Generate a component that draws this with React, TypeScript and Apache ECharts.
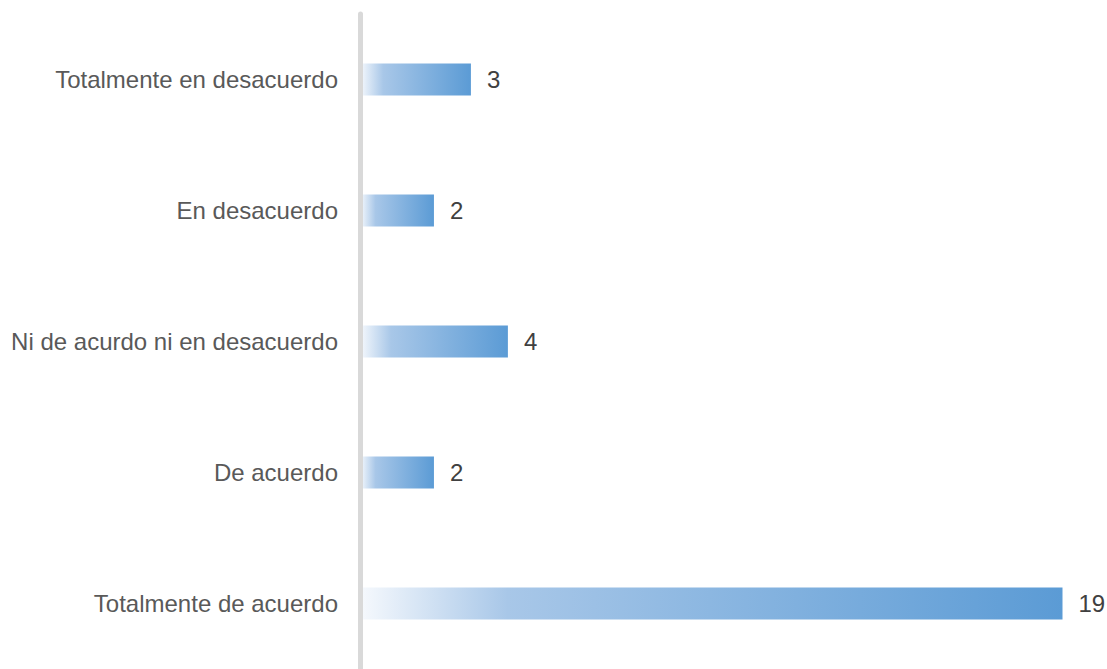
import React, { useEffect, useRef } from "react";
import * as echarts from "echarts";

const categories = [
  "Totalmente en desacuerdo",
  "En desacuerdo",
  "Ni de acurdo ni en desacuerdo",
  "De acuerdo",
  "Totalmente de acuerdo",
];
const values = [3, 2, 4, 2, 19];

export default function App() {
  const ref = useRef<HTMLDivElement>(null);
  useEffect(() => {
    if (!ref.current) return;
    const chart = echarts.init(ref.current, undefined, { renderer: "svg" });
    const font = "'Liberation Sans', Arial, sans-serif";
    chart.setOption({
      animation: false,
      backgroundColor: "#ffffff",
      grid: { left: 360, top: 14, width: 702.5, height: 668, containLabel: false },
      xAxis: {
        type: "value",
        min: 0,
        max: 19,
        show: false,
      },
      yAxis: {
        type: "category",
        data: categories,
        inverse: true,
        z: 5,
        axisLine: { show: true, lineStyle: { color: "#d9d9d9", width: 5 } },
        axisTick: { show: false },
        axisLabel: {
          color: "#595959",
          fontSize: 24,
          fontFamily: font,
          margin: 22,
        },
        splitLine: { show: false },
      },
      series: [
        {
          type: "bar",
          data: values,
          barWidth: 32,
          itemStyle: {
            color: new echarts.graphic.LinearGradient(0, 0, 1, 0, [
              { offset: 0, color: "#f6f9fd" },
              { offset: 0.21, color: "#a8c7e8" },
              { offset: 1, color: "#5b9bd5" },
            ]),
          },
          label: {
            show: true,
            position: "right",
            distance: 16,
            color: "#404040",
            fontSize: 24,
            fontFamily: font,
          },
        },
      ],
    });
    return () => chart.dispose();
  }, []);
  return (
    <div
      ref={ref}
      style={{ position: "fixed", left: 0, top: 0, width: 1107, height: 669 }}
    />
  );
}
